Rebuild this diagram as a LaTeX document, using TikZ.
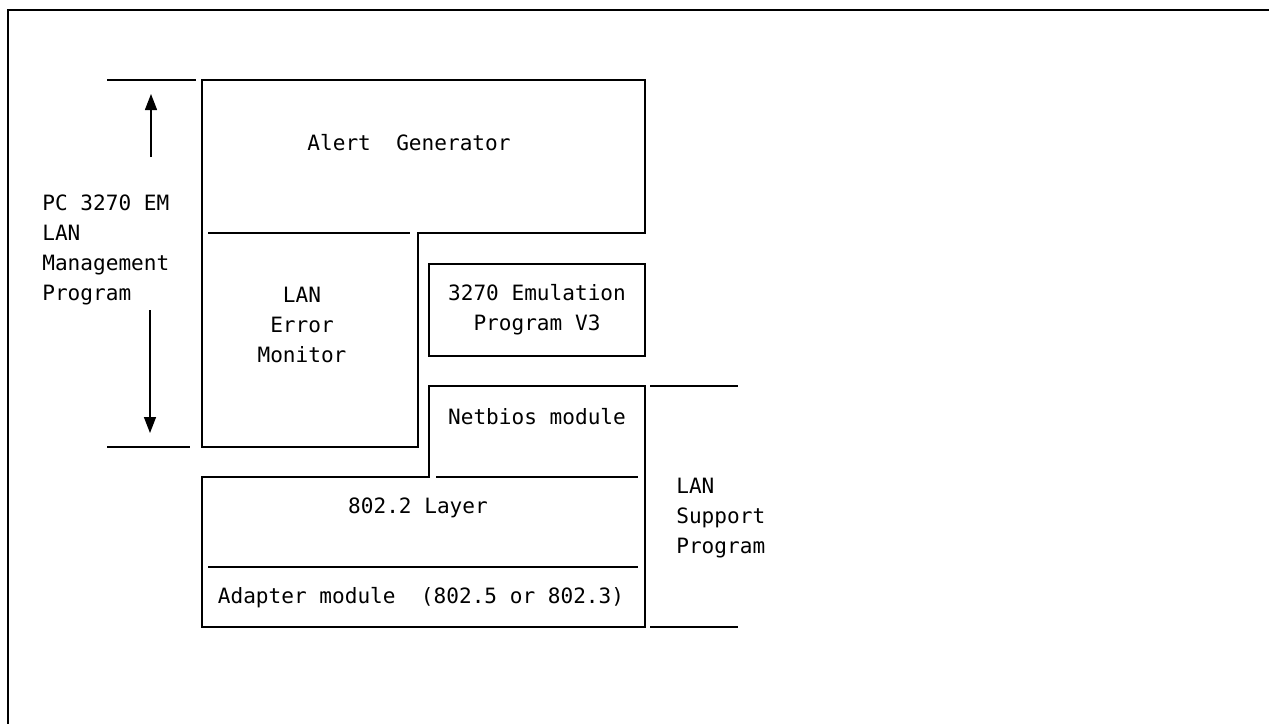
\documentclass[tikz,border=0pt]{standalone}
\usepackage{fontspec}
\setmonofont{DejaVu Sans Mono}
\usetikzlibrary{arrows.meta,positioning}

\begin{document}
\begin{tikzpicture}[
   x=0.02cm, y=-0.02cm,
   font=\ttfamily\fontsize{12}{17.1}\selectfont,
   frame/.style={line width=1pt, color=black},
   label/.style={align=center, inner sep=0pt},
   side/.style={align=left, inner sep=0pt, anchor=west},
   span/.style={-{Triangle[length=3.2mm,width=2.4mm]}, line width=0.8pt},
   emubox/.style={draw, line width=1pt, minimum width=4.32cm, minimum height=1.84cm},
]
  \useasboundingbox (0,0) rectangle (1269,724);
  % page frame (open at right and bottom)
  \draw[frame] (8,724) -- (8,10) -- (1269,10);

  % PC 3270 EM LAN Management Program
  \coordinate (mgtop) at (107,80);
  \coordinate (mgbot) at (107,447);
  \draw[frame] (mgtop) -- ++(89,0);
  \draw[frame] (mgbot) -- ++(83,0);
  \node[side] (mgmt) at (42,250) {PC 3270 EM\\LAN\\Management\\Program};
  \coordinate (uptail) at (151,157);
  \coordinate (uptip) at (151,94);
  \coordinate (dntail) at (150,310);
  \coordinate (dntip) at (150,433);
  \draw[span] (uptail) -- (uptip);
  \draw[span] (dntail) -- (dntip);

  % Alert Generator + LAN Error Monitor outline
  \draw[frame] (202,80) coordinate (agtl) -- (645,80) -- (645,233)
        -- (418,233) -- (418,447) -- (202,447) -- cycle;
  \draw[frame] (208,233) -- (410,233);
  \node[label] (alert) at (409,143) {Alert\ \ Generator};
  \node[label] (lem) at (302,325) {LAN\\Error\\Monitor};

  % 3270 Emulation Program
  \node[emubox, label] (emu) at (537,310) {3270 Emulation\\Program V3};

  % LAN Support Program stack
  \draw[frame] (429,386) -- (645,386) -- (645,627) -- (202,627)
        -- (202,477) -- (429,477) -- cycle;
  \draw[frame] (436,477) -- (638,477);
  \draw[frame] (208,567) -- (638,567);
  \node[label] (netb) at (537,417) {Netbios module};
  \node[label] (llc) at (418,508) {802.2 Layer};
  \node[label] (adapt) at (421,598) {Adapter module\ \ (802.5 or 802.3)};

  \coordinate (lstop) at (650,386);
  \coordinate (lsbot) at (650,627);
  \draw[frame] (lstop) -- ++(88,0);
  \draw[frame] (lsbot) -- ++(88,0);
  \node[side] (lsp) at (676,518) {LAN\\Support\\Program};
\end{tikzpicture}
\end{document}
